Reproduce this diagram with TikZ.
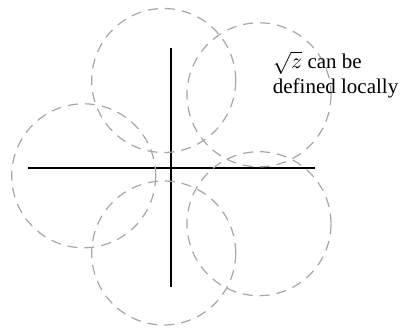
\documentclass[tikz,border=0pt]{standalone}
\usepackage{fontspec}
\setmainfont{Liberation Serif}
\begin{document}
\begin{tikzpicture}[x=0.5pt,y=-0.5pt,
  axis/.style={line width=1pt,black},
  disc/.style={draw=black!35,line width=0.6pt,dash pattern=on 5pt off 3.5pt},
  lbl/.style={align=left,inner sep=0pt,anchor=north west,font=\fontsize{10.5}{12.5}\selectfont}]
\useasboundingbox (0,0) rectangle (404,328);
\coordinate (xl) at (28.3,167.7);
\coordinate (xr) at (315,167.7);
\coordinate (yt) at (171.3,48.3);
\coordinate (yb) at (171.3,286.7);
\draw[axis] (xl) -- (xr);
\draw[axis] (yt) -- (yb);
\coordinate (c1) at (163.7,80.5);
\coordinate (c2) at (259,94.8);
\coordinate (c3) at (83.7,175.8);
\coordinate (c4) at (163.7,253);
\coordinate (c5) at (259,223.7);
\foreach \c in {c1,c2,c3,c4,c5}
  \draw[disc] (\c) circle[radius=36pt];
\node[lbl] (t) at (272.5,51) {$\sqrt{z}$ can be\\defined locally};
\end{tikzpicture}
\end{document}
